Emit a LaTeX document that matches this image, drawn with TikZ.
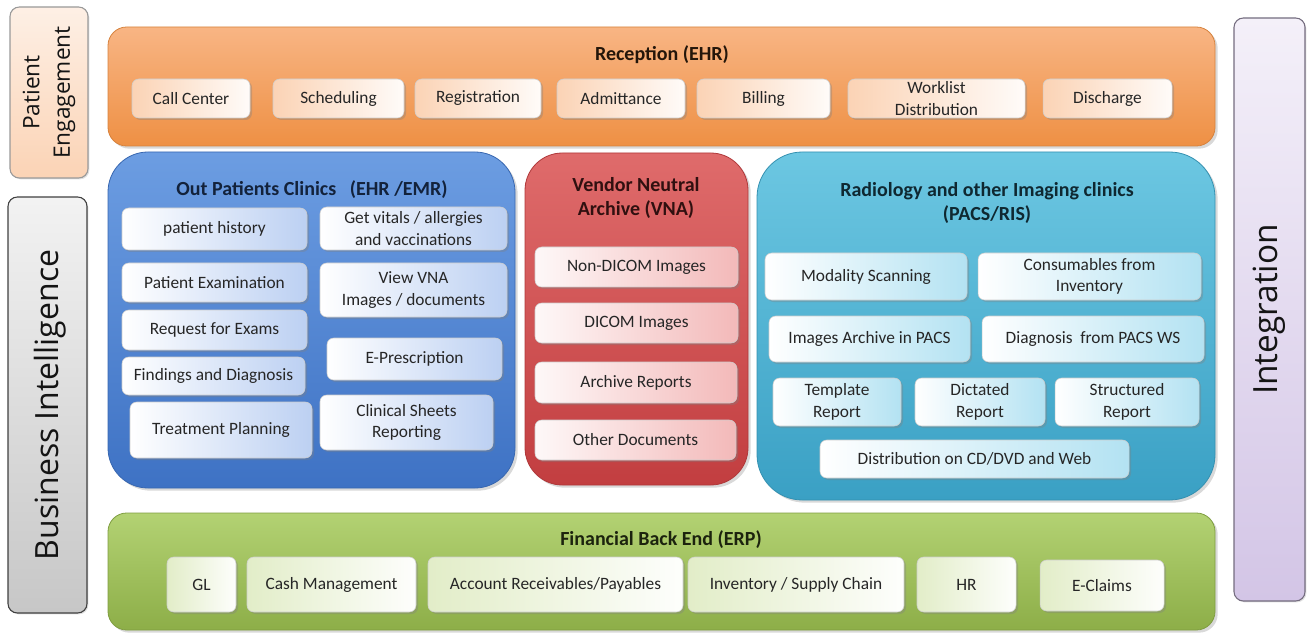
\documentclass[tikz,border=0pt]{standalone}
\usepackage{fontspec}
\setmainfont{Carlito}
\newfontfamily\sidefont{Open Sans}
\usepackage{tikz}
\usetikzlibrary{shadows}
\definecolor{recTop}{HTML}{F8B584}
\definecolor{recBot}{HTML}{EE9044}
\definecolor{recItem}{HTML}{FBD3B5}
\definecolor{opcTop}{HTML}{6C9DE2}
\definecolor{opcBot}{HTML}{3E72C4}
\definecolor{opcItem}{HTML}{BCD0F2}
\definecolor{vnaTop}{HTML}{DF6B6B}
\definecolor{vnaBot}{HTML}{C23E40}
\definecolor{vnaItem}{HTML}{F3B9B9}
\definecolor{radTop}{HTML}{6CC7E2}
\definecolor{radBot}{HTML}{3AA0C4}
\definecolor{radItem}{HTML}{B3E2F2}
\definecolor{finTop}{HTML}{B3D273}
\definecolor{finBot}{HTML}{8DAE48}
\definecolor{finItem}{HTML}{E2EDC8}
\definecolor{intTop}{HTML}{F4F0F9}
\definecolor{intBot}{HTML}{D3C5E6}
\definecolor{txtDark}{HTML}{262626}
\newcommand{\itemSize}{\fontsize{13}{16}\selectfont}
\newcommand{\titleSize}{\fontsize{15}{18}\selectfont\bfseries}

\begin{document}
\begin{tikzpicture}[x=0.75pt,y=-0.75pt,inner sep=0pt,outer sep=0pt,
	box/.style n args={4}{at={({(#1+#3)/2},{(#2+#4)/2})},
		minimum width={(#3-#1)*0.75pt},minimum height={(#4-#2)*0.75pt}},
	panel/.style={rounded corners=#1,line width=0.6pt,
		drop shadow={shadow xshift=2pt,shadow yshift=-2pt,opacity=0.3}},
	item/.style={rounded corners=5pt,draw=white!80!black,line width=0.4pt,align=center,
		font=\itemSize,text=txtDark,
		drop shadow={shadow xshift=1.5pt,shadow yshift=-1.5pt,opacity=0.35}},
	ritem/.style={item,left color=recItem,right color=white!92!recItem},
	oitem/.style={item,left color=white,right color=opcItem},
	vitem/.style={item,left color=white!90!vnaItem,right color=vnaItem},
	aitem/.style={item,left color=white,right color=radItem},
	fitem/.style={item,left color=finItem,right color=white!95!finItem},
	ptitle/.style={font=\titleSize,align=center},
	sidebox/.style={rounded corners=7pt,line width=0.8pt,
		drop shadow={shadow xshift=1pt,shadow yshift=-1pt,opacity=0.25}},
	sidetext/.style={font=\sidefont,text=black!92,align=center,rotate=90}]
	\useasboundingbox (0,0) rectangle (1308,634);

	% side bars
	\node[sidebox,draw=black!40,top color=white!65!recItem,bottom color=recItem,box={10}{7}{88}{178}] (pe) {};
	\node[sidetext,font=\sidefont\fontsize{17}{23}\selectfont] (petext) at (pe.center) {Patient\\Engagement};
	\node[sidebox,draw=black!75,top color=black!5,bottom color=black!22,box={8}{197}{87}{613}] (bi) {};
	\node[sidetext,font=\sidefont\fontsize{24}{28}\selectfont] (bitext) at ([xshift=2pt]bi.center) {Business Intelligence};
	\node[sidebox,draw=intBot!55!black,top color=intTop,bottom color=intBot,box={1234}{18}{1305}{601}] (integ) {};
	\node[sidetext,font=\sidefont\fontsize{25}{28}\selectfont] (integtext) at (integ.center) {Integration};

	% reception
	\node[panel=14pt,top color=recTop,bottom color=recBot,draw=recBot!90!black,box={108}{27}{1215}{146}] (rec) {};
	\node[ptitle,text=black!85!recBot] (rectitle) at (662,55) {Reception (EHR)};
	\node[ritem,box={132}{79}{250}{118}] (rcall) {Call Center};
	\node[ritem,box={273}{79}{404}{118}] (rsched) {Scheduling};
	\node[ritem,box={415}{79}{541}{118}] (rreg) {Registration};
	\node[ritem,box={557}{79}{685}{118}] (radmit) {Admittance};
	\node[ritem,box={697}{79}{830}{118}] (rbill) {Billing};
	\node[ritem,box={848}{79}{1025}{118}] (rwork) {Worklist\\Distribution};
	\node[ritem,box={1043}{79}{1172}{118}] (rdisch) {Discharge};

	% out patients
	\node[panel=30pt,top color=opcTop,bottom color=opcBot,draw=opcBot!90!black,box={108}{152}{515}{488}] (opc) {};
	\node[ptitle,text=opcBot!30!black] (opctitle) at (312,190) {Out Patients Clinics~~ (EHR /EMR)};
	\node[oitem,box={122}{208}{307}{250}] (ohist) {patient history};
	\node[oitem,box={320}{207}{507}{250}] (ovital) {Get vitals / allergies\\and vaccinations};
	\node[oitem,box={122}{263}{307}{302}] (oexam) {Patient Examination};
	\node[oitem,box={320}{263}{507}{317}] (oview) {View VNA\\Images / documents};
	\node[oitem,box={122}{310}{307}{350}] (oreq) {Request for Exams};
	\node[oitem,box={327}{338}{502}{380}] (opresc) {E-Prescription};
	\node[oitem,box={122}{357}{305}{395}] (ofind) {Findings and Diagnosis};
	\node[oitem,box={130}{402}{312}{458}] (otreat) {Treatment Planning};
	\node[oitem,box={320}{395}{493}{450}] (osheet) {Clinical Sheets\\Reporting};

	% vna
	\node[panel=28pt,top color=vnaTop,bottom color=vnaBot,draw=vnaBot!90!black,box={525}{153}{748}{485}] (vna) {};
	\node[ptitle,text=vnaBot!25!black] (vnatitle) at (636,198) {Vendor Neutral\\Archive (VNA)};
	\node[vitem,box={535}{247}{738}{287}] (vnondicom) {Non-DICOM Images};
	\node[vitem,box={535}{303}{738}{343}] (vdicom) {DICOM Images};
	\node[vitem,box={535}{362}{737}{403}] (vreport) {Archive Reports};
	\node[vitem,box={535}{420}{736}{460}] (vother) {Other Documents};

	% radiology
	\node[panel=34pt,top color=radTop,bottom color=radBot,draw=radBot!90!black,box={757}{152}{1215}{500}] (rad) {};
	\node[ptitle,text=radBot!25!black] (radtitle) at (987,203) {Radiology and other Imaging clinics\\(PACS/RIS)};
	\node[aitem,box={765}{253}{967}{300}] (amod) {Modality Scanning};
	\node[aitem,box={978}{253}{1201}{300}] (acons) {Consumables from\\Inventory};
	\node[aitem,box={769}{316}{970}{362}] (aarch) {Images Archive in PACS};
	\node[aitem,box={982}{316}{1204}{362}] (adiag) {Diagnosis~ from PACS WS};
	\node[aitem,box={773}{378}{901}{426}] (atempl) {Template\\Report};
	\node[aitem,box={915}{378}{1045}{426}] (adict) {Dictated\\Report};
	\node[aitem,box={1055}{378}{1199}{426}] (astruct) {Structured\\Report};
	\node[aitem,box={820}{440}{1129}{478}] (adist) {Distribution on CD/DVD and Web};

	% financial
	\node[panel=14pt,top color=finTop,bottom color=finBot,draw=finBot!90!black,box={108}{513}{1215}{630}] (fin) {};
	\node[ptitle,text=finBot!20!black] (fintitle) at (661,540) {Financial Back End (ERP)};
	\node[fitem,box={167}{557}{236}{612}] (fgl) {GL};
	\node[fitem,box={247}{557}{416}{612}] (fcash) {Cash Management};
	\node[fitem,box={428}{557}{683}{612}] (facc) {Account Receivables/Payables};
	\node[fitem,box={688}{557}{904}{612}] (finv) {Inventory / Supply Chain};
	\node[fitem,box={917}{557}{1016}{612}] (fhr) {HR};
	\node[fitem,box={1040}{560}{1164}{611}] (fclaim) {E-Claims};
\end{tikzpicture}
\end{document}
